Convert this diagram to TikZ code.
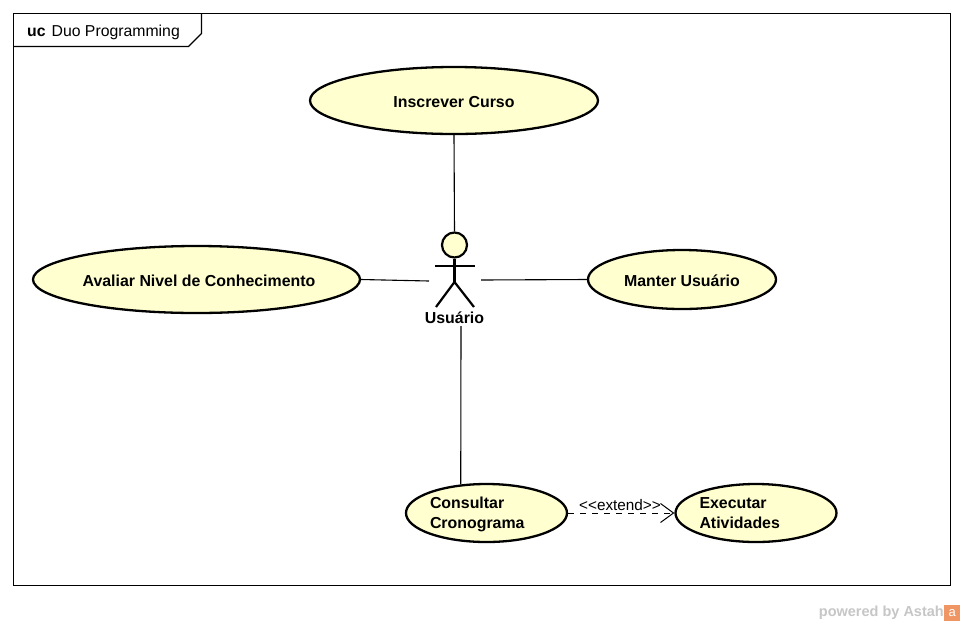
\documentclass[tikz,border=0pt]{standalone}
\usepackage{fontspec}
\setmainfont{Liberation Sans}
\usetikzlibrary{arrows.meta, positioning, calc, shapes.geometric}
\definecolor{casefill}{RGB}{255,255,208}
\definecolor{markgray}{RGB}{198,198,198}
\definecolor{markorange}{RGB}{240,150,100}
\tikzset{
  usecase/.style={ellipse, draw=black, fill=casefill, line width=2.3pt, inner sep=0pt, font=\fontsize{15.9}{20}\selectfont\bfseries, text height=14pt, text depth=0pt},
  twoline/.style={text width=113pt, align=left, text height=11pt, text depth=20pt},
  assoc/.style={draw=black, line width=1.1pt},
  limb/.style={draw=black, line width=2.2pt}
}
\begin{document}
\begin{tikzpicture}[x=1pt, y=-1pt]
  \useasboundingbox (0,0) rectangle (964,625);
  % Frame
  \draw[line width=1pt] (13.5,13.5) rectangle (950.5,585.5);
  \draw[line width=1.2pt] (13.5,46.5) -- (188.5,46.5) -- (201.5,33.5) -- (201.5,13.5);
  \node[anchor=west, inner sep=0pt, font=\fontsize{15.8}{18}\selectfont] (frametitle) at (27,32) {\textbf{uc}\hspace{6pt}Duo Programming};
  % Use cases
  \node[usecase, minimum width=288pt, minimum height=67pt] (inscrever) at (454,100.5) {Inscrever Curso};
  \node[usecase, minimum width=327pt, minimum height=67pt] (avaliar) at (196.5,279.5) {\makebox[225pt][c]{\hspace{5pt}Avaliar Nivel de Conhecimento}};
  \node[usecase, minimum width=188pt, minimum height=59pt] (manter) at (682,279.5) {Manter Usuário};
  \node[usecase, twoline, minimum width=161pt, minimum height=58pt] (consultar) at (486.5,513) {Consultar\\Cronograma};
  \node[usecase, twoline, minimum width=161pt, minimum height=58pt] (executar) at (756,513) {Executar\\Atividades};
  % Actor
  \node[circle, draw=black, fill=casefill, line width=2.2pt, inner sep=0pt, minimum size=25pt] (cabeca) at (454.5,245) {};
  \coordinate (quadril) at (454.5,282);
  \coordinate (bracoL) at (435,266);
  \coordinate (bracoR) at (475,266);
  \coordinate (peL) at (436,307);
  \coordinate (peR) at (474,307);
  \draw[limb] (cabeca.south) -- (quadril);
  \draw[limb] (bracoL) -- (bracoR);
  \draw[limb] (peL) -- (quadril) -- (peR);
  \node[font=\fontsize{15.9}{18}\selectfont\bfseries, inner sep=0pt] (usuario) at (454.5,318) {Usuário};
  \coordinate (atorL) at (429,281);
  \coordinate (atorR) at (481,280);
  \coordinate (atorB) at (461,326);
  % Associations
  \draw[assoc] (inscrever.south) -- (cabeca.north);
  \draw[assoc] (avaliar.east) -- (atorL);
  \draw[assoc] (atorR) -- (manter.west);
  \draw[assoc] (atorB) -- (consultar.132);
  % Extend
  \draw[line width=1pt, dash pattern=on 6pt off 6pt, -{Straight Barb[length=13pt, width=19pt, line width=1pt]}] (consultar.east) -- (executar.west);
  \node[font=\fontsize{15.3}{16}\selectfont, inner sep=0pt] (extend) at (620,505) {<{}<extend>{}>};
  % Watermark
  \node[anchor=east, inner sep=0pt, text=markgray, font=\fontsize{14.5}{16}\selectfont\bfseries] (powered) at (944,613) {powered by Astah};
  \node[fill=markorange, text=white, inner sep=0pt, minimum size=16pt, font=\fontsize{13}{14}\selectfont, right=0pt of powered] (logo) {a};
\end{tikzpicture}
\end{document}
